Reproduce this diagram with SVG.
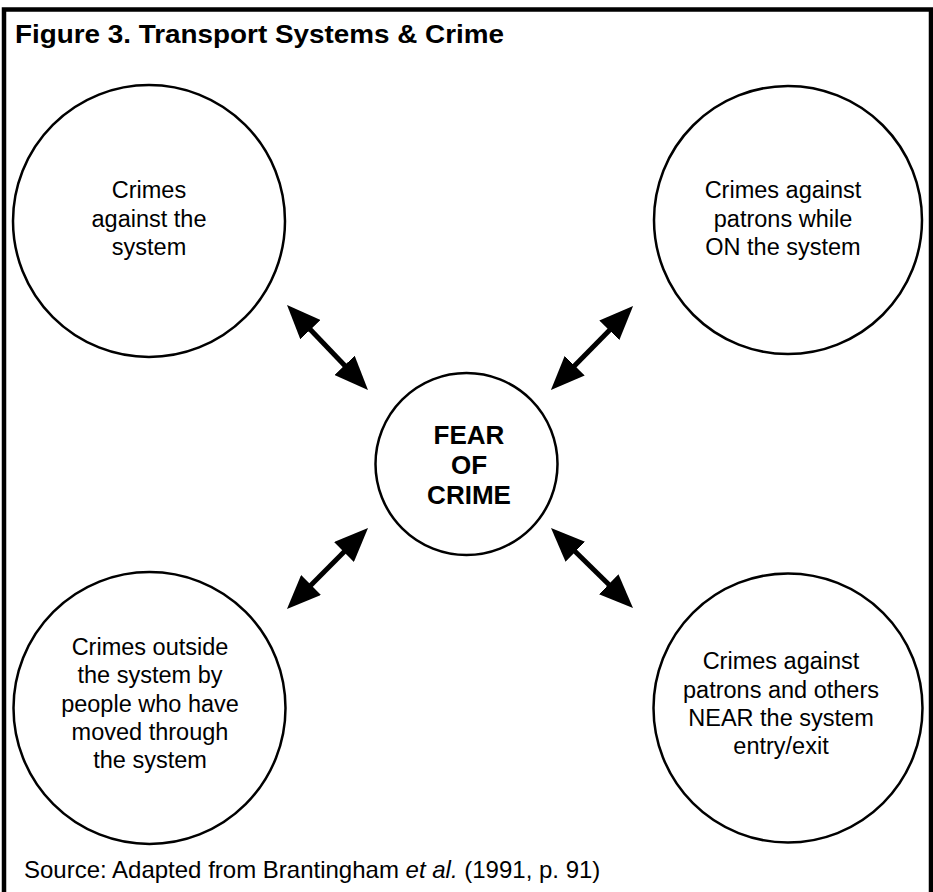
<svg xmlns="http://www.w3.org/2000/svg" width="933" height="892" viewBox="0 0 933 892">
  <style>
    .frame { fill: none; stroke: #000; stroke-width: 4.5; }
    .node circle { fill: #fff; stroke: #000; stroke-width: 2.5; }
    .label { font-family: "Liberation Sans", Arial, sans-serif; font-size: 23.5px; fill: #000; text-anchor: middle; }
    .core { font-family: "Liberation Sans", Arial, sans-serif; font-size: 26px; font-weight: bold; fill: #000; text-anchor: middle; }
    .title { font-family: "Liberation Sans", Arial, sans-serif; font-size: 26px; font-weight: bold; fill: #000; }
    .source { font-family: "Liberation Sans", Arial, sans-serif; font-size: 24px; fill: #000; }
    .link { stroke: #000; stroke-width: 5; fill: none; marker-start: url(#head); marker-end: url(#head); }
  </style>
  <defs>
    <marker id="head" viewBox="0 0 34 28" refX="2" refY="14" markerWidth="34" markerHeight="28" markerUnits="userSpaceOnUse" orient="auto-start-reverse">
      <path d="M0,0 L34,14 L0,28 Z" fill="#000"/>
    </marker>
  </defs>

  <rect width="933" height="892" fill="#fff"/>

  <!-- outer frame, open at the bottom -->
  <path class="frame" d="M4,896 V9.5 H931 V896"/>

  <text class="title" x="15" y="43" textLength="489" lengthAdjust="spacingAndGlyphs">Figure 3. Transport Systems &amp; Crime</text>

  <g id="against-system" class="node">
    <circle cx="149" cy="221" r="136"/>
    <text class="label" x="149" y="198">Crimes</text>
    <text class="label" x="149" y="226.5">against the</text>
    <text class="label" x="149" y="255">system</text>
  </g>

  <g id="on-system" class="node">
    <circle cx="788" cy="220" r="134"/>
    <text class="label" x="783" y="198">Crimes against</text>
    <text class="label" x="783" y="226.5">patrons while</text>
    <text class="label" x="783" y="255">ON the system</text>
  </g>

  <g id="outside-system" class="node">
    <circle cx="149.5" cy="708" r="136"/>
    <text class="label" x="150" y="655">Crimes outside</text>
    <text class="label" x="150" y="683.3">the system by</text>
    <text class="label" x="150" y="711.6">people who have</text>
    <text class="label" x="150" y="740">moved through</text>
    <text class="label" x="150" y="768.3">the system</text>
  </g>

  <g id="near-system" class="node">
    <circle cx="788" cy="708" r="134.5"/>
    <text class="label" x="781" y="669.3">Crimes against</text>
    <text class="label" x="781" y="697.7">patrons and others</text>
    <text class="label" x="781" y="726">NEAR the system</text>
    <text class="label" x="781" y="754.3">entry/exit</text>
  </g>

  <g id="fear-of-crime" class="node">
    <circle cx="466.5" cy="464" r="91"/>
    <text class="core" x="469" y="444">FEAR</text>
    <text class="core" x="469" y="474">OF</text>
    <text class="core" x="469" y="503.5">CRIME</text>
  </g>

  <!-- two-way links between the centre and each outer circle -->
  <g id="links">
    <line class="link" x1="309.1" y1="328.2" x2="345.9" y2="366.8"/>
    <line class="link" x1="610.7" y1="328.9" x2="573.3" y2="367.1"/>
    <line class="link" x1="345.4" y1="550.6" x2="309.6" y2="586.4"/>
    <line class="link" x1="573.9" y1="550.3" x2="610.1" y2="585.7"/>
  </g>

  <text class="source" x="24" y="878">Source: Adapted from Brantingham <tspan font-style="italic">et al.</tspan> (1991, p. 91)</text>
</svg>
